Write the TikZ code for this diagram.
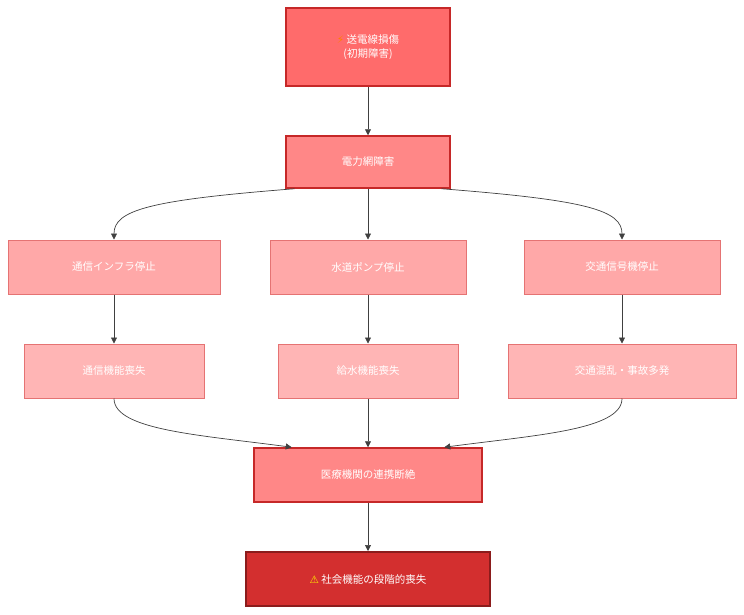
\documentclass[tikz,border=0pt]{standalone}
\usepackage{fontspec}
\setmainfont{Noto Sans CJK JP}
\newfontfamily\symfont{DejaVu Sans}
\usetikzlibrary{arrows.meta}
\definecolor{rTop}{HTML}{FF6B6B}
\definecolor{rMid}{HTML}{FF8787}
\definecolor{rLow}{HTML}{FFA8A8}
\definecolor{rEnd}{HTML}{D32F2F}
\definecolor{rLine}{HTML}{C62828}
\definecolor{rSoft}{HTML}{E57373}
\begin{document}
\begin{tikzpicture}[x=1pt,y=-1pt,font=\fontsize{10.5}{14}\selectfont,
  box/.style={draw,text=white,align=center,inner sep=0pt,line width=1pt},
  edge/.style={draw=black!75,line width=0.7pt,-{Triangle[length=6pt,width=6pt]}}]
\useasboundingbox (0,0) rectangle (744,614);
\node[box,fill=rTop,draw=rLine,line width=2pt,minimum width=164pt,minimum height=78pt] (dmg) at (368,47) {{\symfont\color{orange}⚡} 送電線損傷\\(初期障害)};
\node[box,fill=rMid,draw=rLine,line width=1.5pt,minimum width=164pt,minimum height=52pt] (grid) at (368,162) {電力網障害};
\foreach \n/\x/\w/\t in {comm/114/212/通信インフラ停止,pump/368/196/水道ポンプ停止,sig/622/196/交通信号機停止}
  \node[box,fill=rLow,draw=rSoft,minimum width=\w pt,minimum height=54pt] (\n) at (\x,267) {\t};
\foreach \n/\x/\w/\t in {tel/114/180/通信機能喪失,water/368/180/給水機能喪失,jam/622/228/交通混乱・事故多発}
  \node[box,fill=rLow!85!white,draw=rSoft,minimum width=\w pt,minimum height=54pt] (\n) at (\x,371) {\t};
\node[box,fill=rMid,draw=rLine,line width=1.5pt,minimum width=228pt,minimum height=54pt] (med) at (368,475) {医療機関の連携断絶};
\node[box,fill=rEnd,draw=rLine!70!black,line width=2pt,minimum width=244pt,minimum height=54pt] (soc) at (368,579) {{\symfont\color{yellow!90!orange}⚠} 社会機能の段階的喪失};
\draw[edge] (dmg) -- (grid);
\draw[edge] (grid) -- (pump);
\draw[edge] (grid.200) .. controls (150,200) and (114,210) .. (comm.north);
\draw[edge] (grid.-20) .. controls (586,200) and (622,210) .. (sig.north);
\draw[edge] (comm) -- (tel);
\draw[edge] (pump) -- (water);
\draw[edge] (sig) -- (jam);
\draw[edge] (tel.south) .. controls (114,430) and (200,435) .. (med.160);
\draw[edge] (water) -- (med);
\draw[edge] (jam.south) .. controls (622,430) and (536,435) .. (med.20);
\draw[edge] (med) -- (soc);
\end{tikzpicture}
\end{document}
